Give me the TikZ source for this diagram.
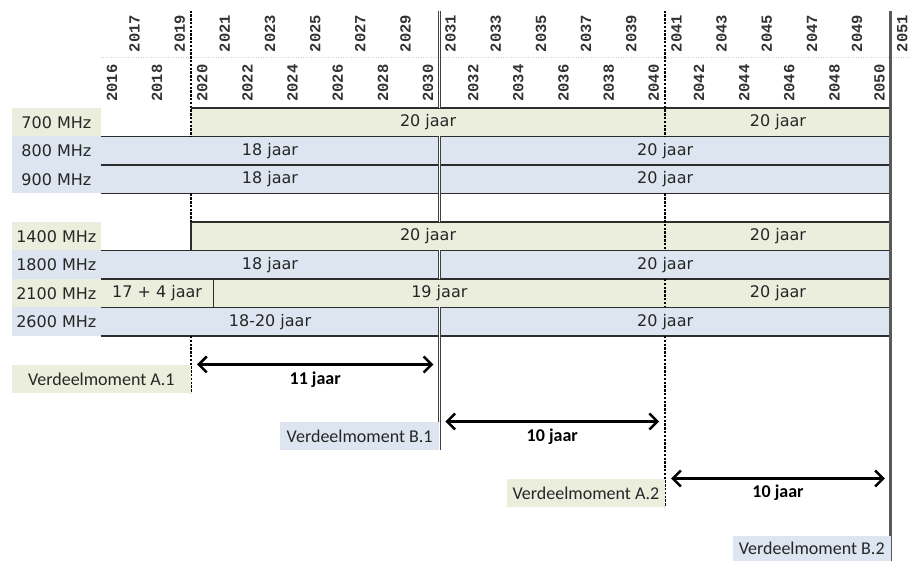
\documentclass[tikz,border=0pt]{standalone}
\usepackage{fontspec}
\setmainfont{DejaVu Sans}
\setmonofont{Liberation Mono}
\newfontfamily\calibri{Carlito}
\usetikzlibrary{arrows.meta, positioning}
\definecolor{bandbeige}{RGB}{235, 238, 221}
\definecolor{bandblue}{RGB}{220, 229, 240}
\definecolor{gridline}{RGB}{45, 45, 45}

\begin{document}
\begin{tikzpicture}[x=22.58pt, y=-28.5pt,
  yearlbl/.style={rotate=90, anchor=west, inner sep=0pt, font=\ttfamily\bfseries\fontsize{15.5}{16}\selectfont, text=black!80},
  cell/.style={inner sep=0pt, font=\fontsize{16}{18}\selectfont, text=black!85},
  moment/.style={inner sep=0pt, anchor=north east, minimum height=28.5pt, font=\calibri\fontsize{18}{20}\selectfont, text=black!85},
  spanlbl/.style={inner sep=0pt, font=\calibri\bfseries\fontsize{18}{20}\selectfont},
  rowline/.style={draw=gridline, line width=1.7pt},
  splitdash/.style={draw=black, line width=1.7pt, dash pattern=on 2.5pt off 1.3pt},
  splitdbl/.style={draw=gray!50!black, double=white, double distance=1.4pt, line width=1.1pt},
  dimarrow/.style={{Straight Barb[length=8pt,width=16pt]}-{Straight Barb[length=8pt,width=16pt]}, line width=2.5pt, shorten <=6pt, shorten >=6pt}
]
  \useasboundingbox (-4.46,-3.79) rectangle (35.89,15.89);

  % bands: label cell + bar
  \foreach \r/\c/\s in {0/bandbeige/4, 1/bandblue/0, 2/bandblue/0, 4/bandbeige/4, 5/bandblue/0, 6/bandbeige/0, 7/bandblue/0} {
    \fill[\c] (-3.93,\r) rectangle (0,\r+1);
    \fill[\c] (\s,\r) rectangle (35,\r+1);
  }
  \foreach \r/\s in {0/4, 1/0, 2/0, 3/0, 4/4, 5/0, 6/0, 7/0, 8/0}
    \draw[rowline] (\s,\r) -- (35,\r);

  % years
  \draw[gray!35, line width=0.8pt, dash pattern=on 1pt off 1.5pt] (0,-1.77) -- (35.89,-1.77);
  \foreach \yr in {2016,2018,...,2050}
    \node[yearlbl] (y\yr) at ({\yr-2016+0.5},-0.21) {\yr};
  \foreach \yr in {2017,2019,...,2051}
    \node[yearlbl] (y\yr) at ({\yr-2016+0.5},-1.95) {\yr};

  % split lines
  \foreach \a/\b in {-3.42/1, 3/4, 8/10}
    \draw[splitdash] (4,\a) -- (4,\b);
  \draw[rowline] (4,4) -- (4,5);
  \draw[rowline] (5,6) -- (5,7);
  \foreach \a/\b in {-3.42/1, 3/5, 6/7, 8/14}
    \draw[splitdash] (25,\a) -- (25,\b);
  \foreach \a/\b in {-3.42/0, 1/4, 5/6, 7/12}
    \draw[splitdbl] (15,\a) -- (15,\b);
  \draw[gray!70!black, line width=3pt] (35,-3.42) -- (35,16);

  % row labels
  \foreach \r/\f in {0/700, 1/800, 2/900, 4/1400, 5/1800, 6/2100, 7/2600}
    \node[cell] (f\f) at (-1.965,\r+0.5) {\f{} MHz};

  \node[cell] (t700a) at (14.5,0.5) {20 jaar};
  \node[cell] (t700b) at (30,0.5) {20 jaar};
  \node[cell] (t800a) at (7.5,1.5) {18 jaar};
  \node[cell] (t800b) at (25,1.5) {20 jaar};
  \node[cell] (t900a) at (7.5,2.5) {18 jaar};
  \node[cell] (t900b) at (25,2.5) {20 jaar};
  \node[cell] (t1400a) at (14.5,4.5) {20 jaar};
  \node[cell] (t1400b) at (30,4.5) {20 jaar};
  \node[cell] (t1800a) at (7.5,5.5) {18 jaar};
  \node[cell] (t1800b) at (25,5.5) {20 jaar};
  \node[cell] (t2100a) at (2.5,6.5) {17 + 4 jaar};
  \node[cell] (t2100b) at (15,6.5) {19 jaar};
  \node[cell] (t2100c) at (30,6.5) {20 jaar};
  \node[cell] (t2600a) at (7.5,7.5) {18-20 jaar};
  \node[cell] (t2600b) at (25,7.5) {20 jaar};

  % verdeelmomenten
  \node[moment, fill=bandbeige, minimum width=179pt] (mA1) at (4,9) {Verdeelmoment A.1};
  \node[moment, fill=bandblue, minimum width=159pt] (mB1) at (15,11) {Verdeelmoment B.1};
  \node[moment, fill=bandbeige, minimum width=158pt] (mA2) at (25,13) {Verdeelmoment A.2};
  \node[moment, fill=bandblue, minimum width=158pt, minimum height=25.4pt] (mB2) at (35,15) {Verdeelmoment B.2};

  \coordinate (pA1) at (4,9);
  \coordinate (pB1) at (15,9);
  \coordinate (qB1) at (15,11);
  \coordinate (qA2) at (25,11);
  \coordinate (rA2) at (25,13);
  \coordinate (rB2) at (35,13);
  \draw[dimarrow] (pA1) -- (pB1);
  \draw[dimarrow] (qB1) -- (qA2);
  \draw[dimarrow] (rA2) -- (rB2);
  \node[spanlbl] (d1) at (9.5,9.55) {11 jaar};
  \node[spanlbl] (d2) at (20,11.55) {10 jaar};
  \node[spanlbl] (d3) at (30,13.5) {10 jaar};
\end{tikzpicture}
\end{document}
